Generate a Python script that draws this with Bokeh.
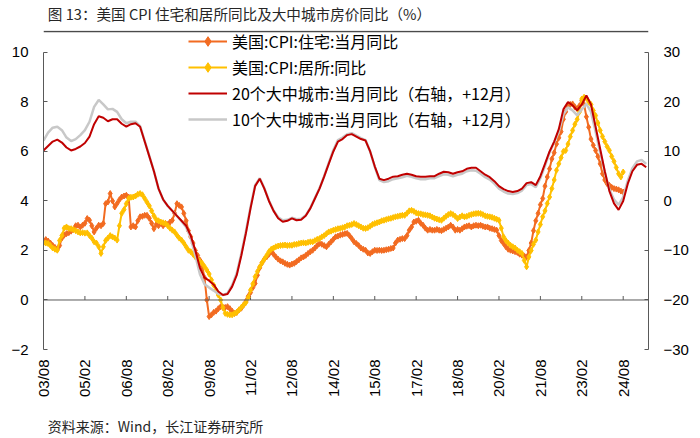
from math import pi
from bokeh.plotting import figure
from bokeh.layouts import column
from bokeh.models import (Range1d, LinearAxis, FixedTicker, Legend, LegendItem,
                          Label, Span)
from bokeh.embed import file_html
from bokeh.resources import INLINE

# ---------------- data ----------------
# month index 0 = 2003/08 ; tick every 18 months
tick_months = [0, 18, 36, 54, 72, 90, 108, 126, 144, 162, 180, 198, 216, 234, 252]
tick_labels = ["03/08", "05/02", "06/08", "08/02", "09/08", "11/02", "12/08", "14/02",
               "15/08", "17/02", "18/08", "20/02", "21/08", "23/02", "24/08"]
left_ticks = [-2, 0, 2, 4, 6, 8, 10]
right_ticks = [-30, -20, -10, 0, 10, 20, 30]

# US CPI housing YoY (%), monthly 2003/08 - 2024/08
cpi_housing = [
    2.41, 2.44, 2.38, 2.30, 2.20, 2.12, 2.05, 2.20, 2.50, 2.62,
    2.68, 2.72, 2.78, 2.85, 3.00, 3.02, 2.95, 3.02, 3.10, 3.29,
    3.22, 3.00, 2.75, 2.90, 3.02, 3.00, 3.09, 3.89, 3.96, 4.30,
    4.00, 3.76, 3.90, 4.05, 4.16, 4.20, 4.23, 4.16, 2.95, 3.00,
    2.95, 3.20, 3.36, 3.38, 3.42, 3.42, 3.30, 3.10, 2.88, 3.05,
    3.00, 3.10, 3.00, 3.09, 3.05, 3.15, 3.22, 3.50, 3.89, 3.82,
    3.76, 3.50, 3.20, 2.80, 2.55, 2.30, 2.00, 1.80, 1.61, 1.35,
    0.90, 0.00, -0.67, -0.60, -0.50, -0.45, -0.35, -0.27, -0.30, -0.30,
    -0.27, -0.35, -0.45, -0.54, -0.50, -0.40, -0.33, -0.20, -0.05, 0.15,
    0.30, 0.50, 0.67, 1.00, 1.30, 1.50, 1.65, 1.74, 1.85, 1.95,
    1.85, 1.74, 1.65, 1.58, 1.54, 1.48, 1.44, 1.41, 1.45, 1.48,
    1.55, 1.62, 1.70, 1.74, 1.80, 1.88, 1.95, 2.01, 2.10, 2.20,
    2.28, 2.25, 2.20, 2.15, 2.25, 2.35, 2.45, 2.55, 2.58, 2.62,
    2.65, 2.68, 2.69, 2.60, 2.48, 2.35, 2.28, 2.20, 2.10, 2.05,
    2.01, 1.90, 1.88, 1.95, 2.01, 2.00, 2.01, 2.00, 2.01, 2.03,
    2.05, 2.08, 2.10, 2.30, 2.42, 2.45, 2.48, 2.48, 2.60, 2.82,
    2.95, 3.15, 3.18, 3.22, 3.10, 3.02, 2.90, 2.82, 2.85, 2.82,
    2.82, 2.85, 2.82, 2.80, 2.85, 2.90, 2.95, 3.02, 2.95, 2.82,
    2.85, 2.82, 2.88, 2.95, 2.98, 3.00, 2.95, 3.00, 3.02, 3.00,
    3.02, 2.98, 2.95, 2.95, 2.90, 2.88, 2.85, 2.82, 2.60, 2.40,
    2.28, 2.15, 2.05, 2.01, 1.98, 1.95, 1.92, 1.85, 1.81, 1.78,
    1.74, 2.00, 2.30, 2.80, 3.20, 3.50, 3.85, 4.10, 4.60, 4.97,
    5.30, 5.70, 5.95, 6.30, 6.55, 6.80, 7.30, 7.60, 7.85, 7.90,
    7.92, 7.80, 7.72, 7.85, 8.05, 7.90, 7.40, 6.98, 6.50, 6.25,
    6.04, 5.80, 5.50, 5.10, 4.85, 4.70, 4.63, 4.55, 4.50, 4.48,
    4.45, 4.40, 4.36,
]

# US CPI shelter YoY (%), monthly 2003/08 - 2024/08
cpi_shelter = [
    2.31, 2.30, 2.28, 2.20, 2.10, 2.05, 2.01, 2.40, 2.60, 2.90,
    2.95, 2.89, 2.88, 2.85, 2.80, 2.75, 2.71, 2.72, 2.70, 2.71,
    2.60, 2.50, 2.35, 2.30, 2.15, 1.88, 2.15, 2.40, 2.50, 2.60,
    2.55, 2.50, 2.42, 3.00, 3.50, 3.65, 3.89, 4.10, 4.15, 4.16,
    4.20, 4.27, 4.30, 4.25, 4.10, 3.95, 3.80, 3.60, 3.40, 3.25,
    3.20, 3.15, 3.12, 3.09, 3.00, 2.90, 2.82, 2.75, 2.62, 2.50,
    2.42, 2.30, 2.15, 2.01, 1.95, 1.85, 1.74, 1.65, 1.55, 1.48,
    1.35, 1.21, 1.05, 0.81, 0.60, 0.40, 0.20, 0.00, -0.30, -0.54,
    -0.58, -0.60, -0.60, -0.55, -0.50, -0.40, -0.30, -0.20, -0.10, 0.10,
    0.40, 0.65, 0.94, 1.15, 1.34, 1.50, 1.65, 1.80, 1.95, 2.05,
    2.10, 2.15, 2.18, 2.20, 2.21, 2.22, 2.20, 2.21, 2.21, 2.24,
    2.25, 2.28, 2.30, 2.31, 2.30, 2.33, 2.35, 2.35, 2.40, 2.45,
    2.48, 2.55, 2.60, 2.68, 2.75, 2.78, 2.82, 2.85, 2.88, 2.89,
    2.92, 2.95, 3.00, 3.02, 3.05, 3.09, 3.05, 3.00, 2.95, 2.90,
    2.89, 2.92, 2.98, 3.05, 3.09, 3.12, 3.15, 3.20, 3.22, 3.25,
    3.28, 3.30, 3.33, 3.36, 3.38, 3.40, 3.42, 3.42, 3.50, 3.60,
    3.62, 3.58, 3.52, 3.49, 3.48, 3.45, 3.44, 3.42, 3.40, 3.35,
    3.30, 3.27, 3.24, 3.22, 3.30, 3.38, 3.45, 3.49, 3.45, 3.38,
    3.29, 3.35, 3.40, 3.36, 3.38, 3.42, 3.45, 3.48, 3.49, 3.50,
    3.49, 3.45, 3.40, 3.38, 3.36, 3.34, 3.30, 3.26, 3.22, 2.90,
    2.55, 2.40, 2.30, 2.21, 2.15, 2.10, 2.01, 1.95, 1.88, 1.60,
    1.34, 1.74, 2.00, 2.25, 2.42, 2.75, 3.05, 3.36, 3.60, 3.90,
    4.16, 4.50, 4.85, 5.24, 5.50, 5.75, 6.00, 6.04, 6.30, 6.60,
    6.85, 7.10, 7.30, 7.60, 8.12, 8.19, 8.15, 8.00, 7.90, 7.65,
    7.45, 7.15, 6.85, 6.60, 6.40, 6.20, 6.04, 5.80, 5.60, 5.35,
    5.10, 4.97, 5.17,
]

# 20-city / 10-city house price YoY (%, right axis, shifted +12 months), every 2 months
city20 = [
    10.2, 11.1, 12.0, 12.4, 11.8, 10.8, 10.2, 10.5, 11.0, 11.7,
    13.0, 15.5, 17.1, 16.8, 16.1, 16.5, 16.5, 15.6, 15.0, 15.5,
    15.7, 15.0, 12.0, 9.0, 6.0, 2.5, 0.3, -1.0, -2.0, -3.0,
    -4.0, -5.0, -7.0, -10.0, -13.5, -15.5, -16.1, -16.9, -18.3, -19.0,
    -18.8, -17.3, -15.0, -11.0, -6.5, -1.5, 3.0, 4.5, 2.5, 0.0,
    -2.0, -3.5, -4.2, -4.0, -3.5, -3.9, -3.8, -3.0, -1.5, 0.5,
    2.5, 4.9, 7.5, 10.0, 12.0, 12.5, 13.3, 13.5, 13.0, 12.5,
    12.2, 10.0, 7.0, 4.5, 4.2, 4.5, 4.9, 5.0, 5.3, 5.5,
    5.3, 5.0, 4.9, 4.9, 5.0, 5.0, 5.5, 5.9, 5.8, 5.5,
    5.8, 6.0, 6.5, 6.7, 6.7, 6.0, 5.3, 4.8, 4.0, 3.0,
    2.4, 2.0, 1.8, 2.0, 2.5, 3.6, 3.8, 3.2, 5.0, 7.5,
    10.0, 12.0, 14.5, 18.5, 20.0, 19.3, 18.3, 19.5, 21.3, 19.5,
    15.0, 10.5, 6.0, 2.0, -0.5, -1.8, 0.0, 3.5, 6.0, 7.3,
    7.5, 6.8,
]
city10 = [
    12.2, 13.8, 14.8, 15.0, 14.3, 12.8, 12.1, 12.5, 13.3, 14.3,
    16.0, 19.0, 20.4, 19.5, 18.5, 18.6, 18.0, 16.5, 15.7, 16.0,
    16.0, 15.1, 12.1, 9.1, 6.0, 2.5, 0.3, -1.0, -2.0, -3.0,
    -4.1, -5.3, -7.5, -11.0, -14.8, -16.8, -17.5, -18.1, -18.8, -19.0,
    -18.6, -17.0, -14.6, -10.6, -6.1, -1.2, 3.2, 4.6, 2.6, 0.1,
    -1.9, -3.3, -3.9, -3.8, -3.4, -3.7, -3.6, -2.9, -1.4, 0.6,
    2.6, 5.0, 7.7, 10.3, 12.3, 12.8, 13.5, 13.7, 13.2, 12.7,
    12.3, 10.0, 6.9, 4.2, 3.8, 4.0, 4.4, 4.6, 4.8, 5.1,
    4.9, 4.6, 4.4, 4.4, 4.6, 4.6, 5.0, 5.4, 5.3, 5.0,
    5.3, 5.5, 6.0, 6.2, 6.1, 5.5, 4.8, 4.3, 3.5, 2.5,
    1.9, 1.5, 1.4, 1.6, 2.1, 3.2, 3.4, 2.8, 4.6, 7.1,
    9.8, 11.8, 14.0, 17.5, 18.9, 18.3, 17.3, 18.5, 19.6, 18.0,
    14.0, 9.8, 5.8, 2.3, 0.3, -0.8, 0.8, 4.1, 6.6, 8.0,
    8.3, 7.5,
]

cpi_x = list(range(len(cpi_housing)))
city_x = list(range(0, 2 * len(city20), 2))

W = 700
TXT_FONT = "Noto Sans CJK SC"
AX_FONT = "Liberation Sans"
AX_COLOR = "#595959"
RULE_COLOR = "#4a4a4a"


def strip(h):
    f = figure(width=W, height=h, x_range=Range1d(0, W), y_range=Range1d(0, h),
               x_axis_type=None, y_axis_type=None, output_backend="svg",
               toolbar_location=None, min_border=0, title=None)
    f.outline_line_color = None
    f.background_fill_color = "white"
    f.border_fill_color = "white"
    return f


# ---------------- title strip ----------------
TH = 30
tf = strip(TH)
tf.add_layout(Label(x=5, y=17, text="图 13：美国 CPI 住宅和居所同比及大中城市房价同比（%）",
                    text_font=TXT_FONT, text_font_size="14.6px", text_color="#262626",
                    text_baseline="middle", text_align="left"))

# ---------------- main chart ----------------
MH = 370
FRAME_BOTTOM = 350 - TH      # frame bottom inside main figure
FRAME_TOP_PAD = 52 - TH      # px between frame top and the value 10
PX_PER_UNIT = 298 / 12.0
extra = FRAME_TOP_PAD / PX_PER_UNIT

p = figure(width=W, height=MH, x_range=Range1d(0, 263), y_range=Range1d(-2, 10 + extra),
           output_backend="svg", toolbar_location=None, title=None,
           min_border_left=43, min_border_right=52, min_border_top=0,
           min_border_bottom=MH - FRAME_BOTTOM)
p.extra_y_ranges = {"right": Range1d(-30, 30 + 5 * extra)}
p.outline_line_color = None
p.xgrid.visible = False
p.ygrid.visible = False
p.background_fill_color = "white"
p.border_fill_color = "white"

# rule under the title (top edge of the chart area)
p.add_layout(Span(location=10 + extra - 0.9 / PX_PER_UNIT, dimension="width",
                  line_color=RULE_COLOR, line_width=1.5))

yax = p.yaxis[0]
yax.ticker = FixedTicker(ticks=left_ticks)
yax.bounds = (-2, 10)
yax.major_tick_in = 4
yax.major_tick_out = 0
yax.minor_tick_line_color = None
yax.axis_line_color = AX_COLOR
yax.major_tick_line_color = AX_COLOR
yax.major_label_text_font = AX_FONT
yax.major_label_text_font_size = "15px"
yax.major_label_text_color = "#000000"
yax.major_label_standoff = 15

rax = LinearAxis(y_range_name="right", ticker=FixedTicker(ticks=right_ticks), bounds=(-30, 30),
                 major_tick_in=4, major_tick_out=0, minor_tick_line_color=None,
                 axis_line_color=AX_COLOR, major_tick_line_color=AX_COLOR,
                 major_label_text_font=AX_FONT, major_label_text_font_size="15px",
                 major_label_text_color="#000000", major_label_standoff=15)
p.add_layout(rax, "right")

xax = p.xaxis[0]
xax.ticker = FixedTicker(ticks=tick_months)
xax.major_label_overrides = {m: s for m, s in zip(tick_months, tick_labels)}
xax.major_label_orientation = pi / 2
xax.axis_line_color = None
xax.major_tick_line_color = None
xax.minor_tick_line_color = None
xax.major_tick_in = 0
xax.major_tick_out = 0
xax.major_label_standoff = 10
xax.major_label_text_font = AX_FONT
xax.major_label_text_font_size = "15px"
xax.major_label_text_color = "#000000"

# category line at y = 0 with small upward ticks
p.add_layout(Span(location=0, dimension="width", line_color=AX_COLOR, line_width=1))
tick_h = 4 / PX_PER_UNIT
p.segment(x0=tick_months, y0=[0] * len(tick_months), x1=tick_months,
          y1=[tick_h] * len(tick_months), line_color=AX_COLOR, line_width=1)

C_HOUSING = "#F26B21"
C_SHELTER = "#FFC000"
C_20 = "#C00000"
C_10 = "#C8C8C8"

r_h_l = p.line(cpi_x, cpi_housing, line_color=C_HOUSING, line_width=2)
r_h_m = p.scatter(cpi_x, cpi_housing, marker="diamond", size=6, color=C_HOUSING)
r_s_l = p.line(cpi_x, cpi_shelter, line_color=C_SHELTER, line_width=2)
r_s_m = p.scatter(cpi_x, cpi_shelter, marker="diamond", size=6, color=C_SHELTER)
r_10 = p.line(city_x, city10, y_range_name="right", line_color=C_10, line_width=2.5)
r_20 = p.line(city_x, city20, y_range_name="right", line_color=C_20, line_width=2)

ITEM_H = 24
LEG_SPACING = 2
LEG_H = 4 * ITEM_H + 3 * LEG_SPACING
LEG_TOP = 28 - TH            # page y of legend top = 28
legend = Legend(items=[
    LegendItem(label="美国:CPI:住宅:当月同比", renderers=[r_h_l, r_h_m]),
    LegendItem(label="美国:CPI:居所:同比", renderers=[r_s_l, r_s_m]),
    LegendItem(label="20个大中城市:当月同比（右轴，+12月）", renderers=[r_20]),
    LegendItem(label="10个大中城市:当月同比（右轴，+12月）", renderers=[r_10]),
], location=(145, FRAME_BOTTOM - LEG_H - max(LEG_TOP, 0)), orientation="vertical",
    glyph_width=39, glyph_height=ITEM_H, label_height=ITEM_H, spacing=LEG_SPACING,
    label_standoff=5, padding=0, margin=0,
    border_line_color=None, background_fill_alpha=0,
    label_text_font=TXT_FONT, label_text_font_size="16px",
    label_text_color="#000000")
p.add_layout(legend, "center")

# ---------------- source strip ----------------
FH = 438 - TH - MH
ff = strip(FH)
ff.add_layout(Label(x=5, y=13, text="资料来源：Wind，长江证券研究所",
                    text_font=TXT_FONT, text_font_size="14px", text_color="#262626",
                    text_baseline="middle", text_align="left"))

layout = column(tf, p, ff, spacing=0)
open("out.html", "w").write(file_html(layout, INLINE))
